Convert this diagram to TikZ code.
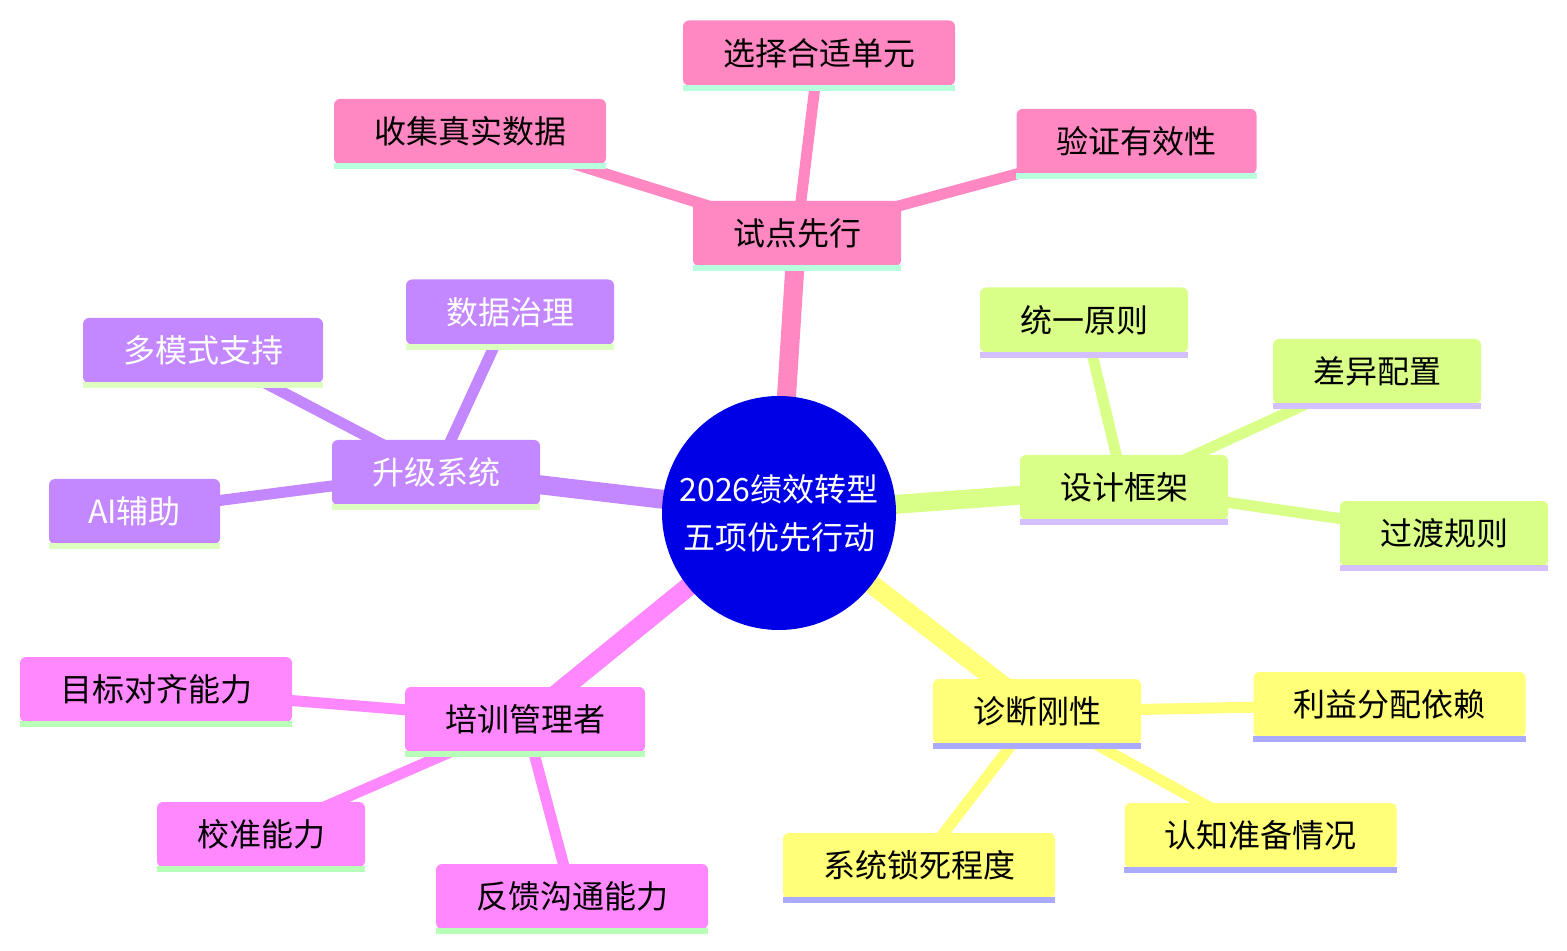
\documentclass[tikz,border=0pt]{standalone}
\usepackage{fontspec}
\newfontfamily\cjk{Noto Sans CJK SC}
\definecolor{rootC}{HTML}{0000E6}
\definecolor{pinkC}{HTML}{FF88C2}
\definecolor{pinkU}{HTML}{B8FFDD}
\definecolor{greenC}{HTML}{D9FF88}
\definecolor{greenU}{HTML}{D4BFFF}
\definecolor{purpC}{HTML}{C388FF}
\definecolor{purpU}{HTML}{DDFFC0}
\definecolor{yelC}{HTML}{FFFF78}
\definecolor{yelU}{HTML}{AAAAFF}
\definecolor{magC}{HTML}{FF88FF}
\definecolor{magU}{HTML}{B8FFB8}
\pgfdeclarelayer{bg}
\pgfsetlayers{bg,main}
\tikzset{
  mmbox/.style={rectangle, rounded corners=3pt, minimum height=32.5pt, inner xsep=0pt, font=\cjk\fontsize{16}{20}\selectfont, text=black},
  rootnode/.style={circle, fill=rootC, minimum size=117pt, inner sep=0pt, align=center, text=white, font=\cjk\fontsize{16}{24}\selectfont},
  pinkbox/.style={mmbox, fill=pinkC},
  greenbox/.style={mmbox, fill=greenC},
  purpbox/.style={mmbox, fill=purpC, text=white},
  yelbox/.style={mmbox, fill=yelC},
  magbox/.style={mmbox, fill=magC},
  rootedge/.style={line width=9.5pt},
  leafedge/.style={line width=5.5pt},
}
\begin{document}
\begin{tikzpicture}[x=0.5pt,y=-0.5pt]
\useasboundingbox (0,0) rectangle (1567,951);
% nodes
\node[rootnode] (R) at (779,513) {2026绩效转型\\五项优先行动};
\node[pinkbox, minimum width=104pt] (A) at (797,233.5) {试点先行};
\node[pinkbox, minimum width=136pt] (A1) at (819,53) {选择合适单元};
\node[pinkbox, minimum width=136pt] (A2) at (470,131.5) {收集真实数据};
\node[pinkbox, minimum width=120pt] (A3) at (1136.5,141.5) {验证有效性};
\node[greenbox, minimum width=104pt] (B) at (1124,487.5) {设计框架};
\node[greenbox, minimum width=104pt] (B1) at (1084,320) {统一原则};
\node[greenbox, minimum width=104pt] (B2) at (1377,371.5) {差异配置};
\node[greenbox, minimum width=104pt] (B3) at (1444,533.5) {过渡规则};
\node[purpbox, minimum width=104pt] (C) at (436,472.5) {升级系统};
\node[purpbox, minimum width=104pt] (C1) at (510,312) {数据治理};
\node[purpbox, minimum width=120pt] (C2) at (203,350.5) {多模式支持};
\node[purpbox, minimum width=85.5pt] (C3) at (134.5,511.5) {AI辅助};
\node[yelbox, minimum width=104pt] (D) at (1037,711.5) {诊断刚性};
\node[yelbox, minimum width=136pt] (D1) at (1389.5,704.5) {利益分配依赖};
\node[yelbox, minimum width=136pt] (D2) at (1260.5,835.5) {认知准备情况};
\node[yelbox, minimum width=136pt] (D3) at (919,865.5) {系统锁死程度};
\node[magbox, minimum width=120pt] (E) at (525,719.5) {培训管理者};
\node[magbox, minimum width=136pt] (E1) at (156,689.5) {目标对齐能力};
\node[magbox, minimum width=104pt] (E2) at (261,834.5) {校准能力};
\node[magbox, minimum width=136pt] (E3) at (572,896.5) {反馈沟通能力};
% edges behind nodes
\begin{pgfonlayer}{bg}
\draw[rootedge, pinkC] (R.center) -- (A.center);
\draw[rootedge, greenC] (R.center) -- (B.center);
\draw[rootedge, purpC] (R.center) -- (C.center);
\draw[rootedge, yelC] (R.center) -- (D.center);
\draw[rootedge, magC] (R.center) -- (E.center);
\foreach \p/\c in {A/pinkC, B/greenC, C/purpC, D/yelC, E/magC}{
  \foreach \k in {1,2,3}{
    \draw[leafedge, \c] (\p.center) -- (\p\k.center);
  }
}
\end{pgfonlayer}
% underlines
\foreach \n/\c in {A/pinkU,A1/pinkU,A2/pinkU,A3/pinkU,
                   B/greenU,B1/greenU,B2/greenU,B3/greenU,
                   C/purpU,C1/purpU,C2/purpU,C3/purpU,
                   D/yelU,D1/yelU,D2/yelU,D3/yelU,
                   E/magU,E1/magU,E2/magU,E3/magU}{
  \fill[\c] ([yshift=0.5pt]\n.south west) rectangle ([yshift=-2.5pt]\n.south east);
}
\end{tikzpicture}
\end{document}
